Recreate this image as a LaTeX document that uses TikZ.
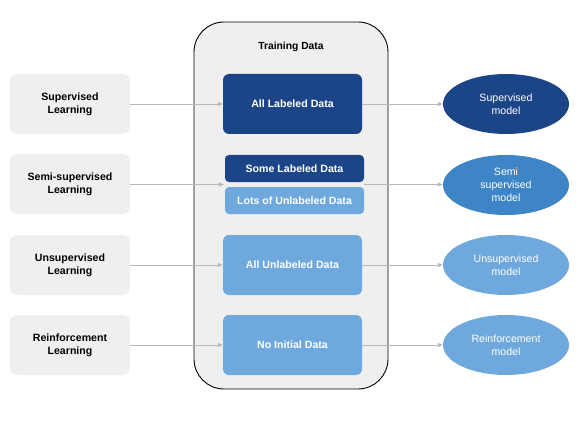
\documentclass[tikz,border=0pt]{standalone}
\usepackage{fontspec}
\setmainfont{Liberation Sans}
\usetikzlibrary{arrows.meta,shapes.geometric}
\definecolor{darkb}{HTML}{1C4587}
\definecolor{midb}{HTML}{3D85C6}
\definecolor{lightb}{HTML}{6FA8DC}
\definecolor{panel}{HTML}{EFEFEF}
\definecolor{arr}{HTML}{B7B7B7}
\begin{document}
\begin{tikzpicture}[x=1pt,y=-1pt,
  lbox/.style={fill=panel,rounded corners=7pt,minimum width=120pt,minimum height=60pt,align=center,font=\fontsize{10.6}{13}\selectfont\bfseries,inner sep=0pt},
  dbox/.style={rounded corners=6pt,minimum width=139pt,minimum height=60pt,align=center,font=\fontsize{10.6}{13}\selectfont\bfseries,text=white,inner sep=0pt},
  sbox/.style={rounded corners=4pt,minimum width=139pt,minimum height=27pt,align=center,font=\fontsize{10.6}{13}\selectfont\bfseries,text=white,inner sep=0pt},
  model/.style={ellipse,minimum width=126pt,minimum height=60pt,align=center,font=\fontsize{10.6}{13}\selectfont,text=white,inner sep=0pt},
  conn/.style={draw=arr,line width=0.8pt,-{Triangle[length=5pt,width=4pt]}}
]
\useasboundingbox (0,0) rectangle (588,422);
\draw[fill=panel,draw=black,line width=0.9pt,rounded corners=30pt] (194,22) rectangle (388,389);
\node (title) at (291,47) {\fontsize{10.3}{12}\selectfont\bfseries Training Data};

\node[lbox] (sup) at (70,104) {Supervised\\Learning};
\node[lbox] (semi) at (70,184) {Semi-supervised\\Learning};
\node[lbox] (uns) at (70,265) {Unsupervised\\Learning};
\node[lbox] (rein) at (70,345) {Reinforcement\\Learning};

\node[dbox,fill=darkb] (ald) at (292.5,104) {All Labeled Data};
\node[sbox,fill=darkb] (sld) at (294.5,168.5) {Some Labeled Data};
\node[sbox,fill=lightb] (lud) at (294.5,200.5) {Lots of Unlabeled Data};
\node[dbox,fill=lightb] (aud) at (292.5,265) {All Unlabeled Data};
\node[dbox,fill=lightb] (nid) at (292.5,345) {No Initial Data};

\node[model,fill=darkb] (msup) at (506,104) {Supervised\\model};
\node[model,fill=midb] (msemi) at (506,185) {Semi\\supervised\\model};
\node[model,fill=lightb] (muns) at (506,265) {Unsupervised\\model};
\node[model,fill=lightb] (mrein) at (506,345) {Reinforcement\\model};

\coordinate (semiin) at (224,184.5);
\coordinate (semiout) at (364,184.5);

\draw[conn] (sup.east) -- (ald.west);
\draw[conn] (semi.east |- semiin) -- (semiin);
\draw[conn] (uns.east) -- (aud.west);
\draw[conn] (rein.east) -- (nid.west);
\draw[conn] (ald.east) -- (msup.west);
\draw[conn] (semiout) -- (msemi.west |- semiout);
\draw[conn] (aud.east) -- (muns.west);
\draw[conn] (nid.east) -- (mrein.west);
\end{tikzpicture}
\end{document}
